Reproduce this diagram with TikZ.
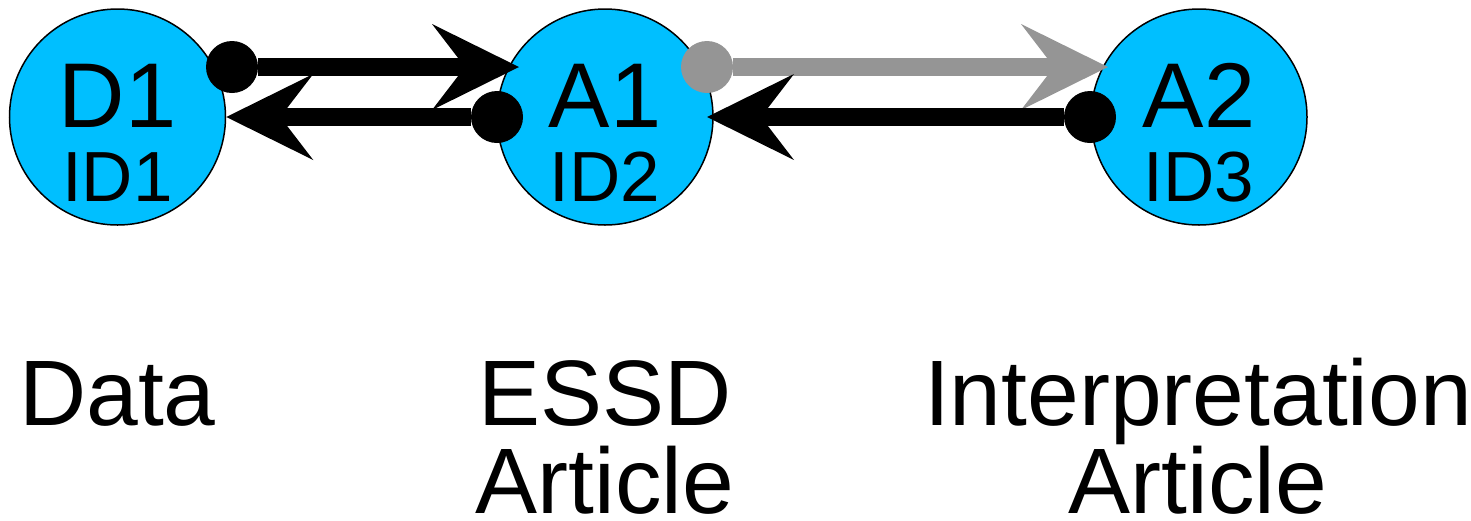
\documentclass[tikz,border=0pt]{standalone}
\usepackage{fontspec}
\setmainfont{Liberation Sans}
\usetikzlibrary{arrows.meta,calc}
\definecolor{nodefill}{HTML}{00BFFF}
\definecolor{linkgray}{HTML}{959595}
\tikzset{
  docnode/.style={circle, draw=black, line width=1.5pt, fill=nodefill,
    minimum size=216pt, inner sep=0pt},
  bigname/.style={anchor=base, inner sep=0pt, font=\fontsize{92}{92}\selectfont},
  idname/.style={anchor=base, inner sep=0pt, font=\fontsize{71}{71}\selectfont},
  caption/.style={anchor=base, inner sep=0pt, align=center,
    font=\fontsize{93}{88}\selectfont},
  link/.style={line width=17.5pt,
    {Circle[length=52pt,line width=0pt]}-{Stealth[length=87pt,width=86pt,inset=33pt,line width=0pt]}},
}
\begin{document}
\begin{tikzpicture}[x=1pt,y=-1pt]
  \useasboundingbox (0,0) rectangle (1471,520);

  % documents
  \node[docnode] (D1) at (117.5,117) {};
  \node[docnode] (A1) at (605,117) {};
  \node[docnode] (A2) at (1199,117) {};

  \node[bigname] (D1name) at ($(D1.center)+(0,10)$) {D1};
  \node[idname]  (D1id)   at ($(D1.center)+(0,84)$) {ID1};
  \node[bigname] (A1name) at ($(A1.center)+(0,10)$) {A1};
  \node[idname]  (A1id)   at ($(A1.center)+(0,84)$) {ID2};
  \node[bigname] (A2name) at ($(A2.center)+(0,10)$) {A2};
  \node[idname]  (A2id)   at ($(A2.center)+(0,84)$) {ID3};

  % references between the documents
  \draw[link] ($(D1.center)+(88.5,-50)$) -- ($(A1.center)+(-86,-50)$);
  \draw[link] ($(A1.center)+(-82,0)$) -- (D1.east);
  \draw[link, draw=linkgray, fill=linkgray] ($(A1.center)+(76,-50)$) -- ($(A2.center)+(-91,-50)$);
  \draw[link] ($(A2.center)+(-83,0)$) -- ($(A1.center)+(102,0)$);

  % captions (base anchor sits on the last line)
  \node[caption] (cap1) at (117.5,425) {Data};
  \node[caption] (cap2) at (605,513) {ESSD\\Article};
  \node[caption] (cap3) at (1198,513) {Interpretation\\Article};
\end{tikzpicture}
\end{document}
